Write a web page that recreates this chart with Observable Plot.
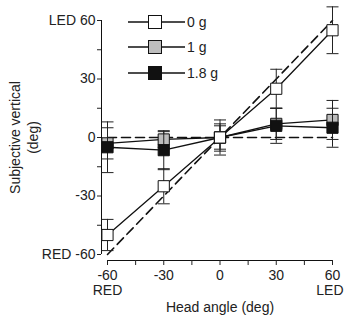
<!DOCTYPE html>
<html><head><meta charset="utf-8">
<script src="https://cdn.jsdelivr.net/npm/d3@7"></script>
<script src="https://cdn.jsdelivr.net/npm/@observablehq/plot@0.6"></script>
<style>
body{margin:0;background:#fff;font-family:"Liberation Sans",Arial,sans-serif;}
#wrap{position:relative;width:344px;height:326px;}
#legend{position:absolute;left:128px;top:9px;font-size:14px;color:#222;}
#legend .row{display:flex;align-items:center;height:25.5px;}
#legend svg{display:block;margin-right:2px}
</style></head>
<body><div id="wrap"><div id="legend"></div></div>
<script>
const headAngles = [-60, -30, 0, 30, 60];
const seriesNames = ["0 g", "1 g", "1.8 g"];
const seriesFills = ["#ffffff", "#bdbdbd", "#111111"];
const values0g = [-50, -25, 0, 25, 55];
const errors0g = [8, 9, 9, 10, 12];
const values1g = [-3, -1, 0, 7, 9];
const errors1g = [8, 4, 6, 8, 10];
const values18g = [-5, -6.5, 0, 6, 5];
const errors18g = [13, 10, 7, 9, 10];
const refLine = [-60, 60];
const yTickLabels = {"60": "LED 60", "30": "30", "0": "0", "-30": "-30", "-60": "RED -60"};
const xEndLabels = {"-60": "RED", "60": "LED"};
const yTitleLines = ["Subjective vertical", "(deg)"];
const xTitle = "Head angle (deg)";

const seriesVals = [values0g, values1g, values18g];
const seriesErrs = [errors0g, errors1g, errors18g];
const data = [];
[1, 2, 0].forEach(s => headAngles.forEach((x, i) => data.push({
  series: seriesNames[s], fill: seriesFills[s], x, y: seriesVals[s][i], e: seriesErrs[s][i], order: s
})));

const cap = {draw(ctx, size) { const r = Math.sqrt(size / Math.PI); ctx.moveTo(-r, 0); ctx.lineTo(r, 0); }};
const ticks15 = d3.range(-60, 61, 15);

const marks = [
  Plot.line(refLine, {x: d => d, y: d => d, stroke: "#111", strokeWidth: 1.6, strokeDasharray: "9,5"}),
  Plot.line(refLine, {x: d => d, y: 0, stroke: "#111", strokeWidth: 1.6, strokeDasharray: "9,5"}),
  Plot.ruleX([-60], {y1: -60, y2: 60, dx: -6, stroke: "#111", strokeWidth: 1}),
  Plot.ruleY([-60], {x1: -60, x2: 60, dy: 6, stroke: "#111", strokeWidth: 1}),
  Plot.axisY({ticks: ticks15, tickFormat: d => d % 30 === 0 ? yTickLabels[String(d)] : "", dx: -6, tickSize: 4, tickPadding: 2, label: null, fontSize: 14}),
  Plot.axisX({ticks: ticks15, tickFormat: d => d % 30 === 0 ? String(d) : "", dy: 6, tickSize: 5, tickPadding: 5, label: null, fontSize: 14}),
  Plot.axisX({ticks: [-60], tickFormat: d => xEndLabels[String(d)], dy: 27, tickSize: 0, tickPadding: 4, label: null, fontSize: 14}),
  Plot.axisX({ticks: [60], tickFormat: d => xEndLabels[String(d)], dy: 27, dx: 11, textAnchor: "end", tickSize: 0, tickPadding: 4, label: null, fontSize: 14}),
  Plot.text([yTitleLines[0]], {text: d => d, x: -60, y: 0, rotate: -90, dx: -92, textAnchor: "middle", lineAnchor: "middle", fontSize: 14, fill: "#222"}),
  Plot.text([yTitleLines[1]], {text: d => d, x: -60, y: 0, rotate: -90, dx: -74, textAnchor: "middle", lineAnchor: "middle", fontSize: 14, fill: "#222"}),
  Plot.text([xTitle], {text: d => d, frameAnchor: "bottom", dy: 57, fontSize: 14, fill: "#222"})
];
[1, 2, 0].forEach(s => {
  const d = data.filter(p => p.order === s);
  marks.push(Plot.line(d, {x: "x", y: "y", stroke: "#111", strokeWidth: 1.3}));
  marks.push(Plot.ruleX(d, {x: "x", y1: p => p.y - p.e, y2: p => p.y + p.e, stroke: "#222", strokeWidth: 1}));
  marks.push(Plot.dot(d, {x: "x", y: p => p.y + p.e, symbol: cap, r: 6, stroke: "#222", strokeWidth: 1}));
  marks.push(Plot.dot(d, {x: "x", y: p => p.y - p.e, symbol: cap, r: 6, stroke: "#222", strokeWidth: 1}));
  marks.push(Plot.dot(d, {x: "x", y: "y", symbol: "square", r: 6.3, fill: seriesFills[s], stroke: "#111", strokeWidth: 1}));
});

const chart = Plot.plot({
  width: 344, height: 326,
  marginLeft: 107, marginRight: 12, marginTop: 20, marginBottom: 72,
  style: {fontFamily: "Liberation Sans, Arial, sans-serif", fontSize: "14px", color: "#222", background: "#fff", overflow: "visible"},
  x: {domain: [-60, 60]},
  y: {domain: [-60, 60]},
  marks
});
document.getElementById("wrap").prepend(chart);

const legend = document.getElementById("legend");
seriesNames.forEach((name, i) => {
  const row = document.createElement("div");
  row.className = "row";
  row.innerHTML = `<svg width="57" height="16"><line x1="0" y1="8" x2="57" y2="8" stroke="#111" stroke-width="1.3"/><rect x="20.5" y="1.5" width="13" height="13" fill="${seriesFills[i]}" stroke="#111" stroke-width="1"/></svg><span>${name}</span>`;
  legend.appendChild(row);
});
</script></body></html>
